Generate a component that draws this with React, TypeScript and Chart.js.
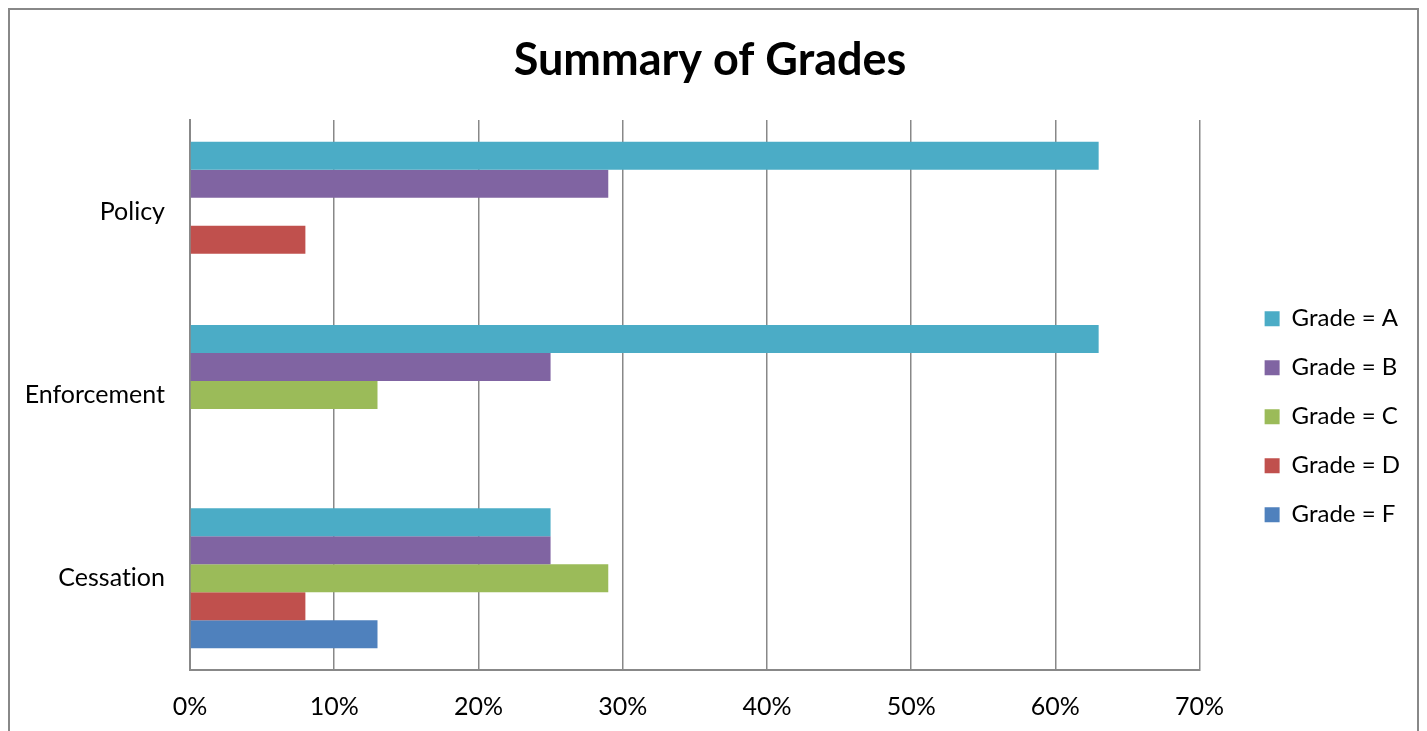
import React, { useEffect, useRef } from "react";
import { Chart, registerables } from "chart.js";

Chart.register(...registerables);

const categories = ["Policy", "Enforcement", "Cessation"];
const seriesLabels = ["Grade = A", "Grade = B", "Grade = C", "Grade = D", "Grade = F"];
const gradeA = [63, 63, 25];
const gradeB = [29, 25, 25];
const gradeC = [null, 13, 29];
const gradeD = [8, null, 8];
const gradeF = [null, null, 13];
const seriesColors = ["#4BACC6", "#8064A2", "#9BBB59", "#C0504D", "#4F81BD"];
const xMax = 70;
const xStep = 10;

const FONT = "Lato, 'Open Sans', sans-serif";

const noLigatures = {
  id: "noLigatures",
  beforeDraw(chart: any) {
    try {
      chart.ctx.textRendering = "optimizeSpeed";
    } catch (e) {}
  },
};

export default function App() {
  const ref = useRef<HTMLCanvasElement | null>(null);

  useEffect(() => {
    if (!ref.current) return;
    const series = [gradeA, gradeB, gradeC, gradeD, gradeF];
    const chart = new Chart(ref.current, {
      type: "bar",
      data: {
        labels: categories,
        datasets: series.map((d, i) => ({
          label: seriesLabels[i],
          data: d,
          backgroundColor: seriesColors[i],
          borderWidth: 0,
          categoryPercentage: 0.7636,
          barPercentage: 1,
          yAxisID: "y",
        })),
      },
      plugins: [noLigatures],
      options: {
        indexAxis: "y",
        animation: false,
        responsive: false,
        devicePixelRatio: 1,
        layout: { padding: { left: 0, right: 7, top: 0, bottom: 0 } },
        plugins: {
          title: {
            display: true,
            text: "Summary of Grades",
            color: "#000",
            font: { family: FONT, size: 45, weight: "bold" },
            padding: { top: 23, bottom: 33 },
          },
          legend: {
            display: true,
            position: "right",
            align: "center",
            title: { display: true, text: "", padding: 39, font: { size: 12 } },
            labels: {
              boxWidth: 15,
              boxHeight: 15,
              padding: 25,
              color: "#000",
              font: { family: FONT, size: 24 },
            },
          },
          tooltip: { enabled: false },
        },
        scales: {
          x: {
            type: "linear",
            min: 0,
            max: xMax,
            position: "bottom",
            ticks: {
              stepSize: xStep,
              color: "#000",
              padding: 22,
              font: { family: FONT, size: 25 },
              callback: (v: any) => `${v}%`,
            },
            grid: { display: true, color: "#888888", lineWidth: 1.5, drawTicks: false },
            border: { display: true, color: "#888888", width: 2 },
            afterFit: (s: any) => {
              s.height = 61;
            },
          },
          y: {
            type: "category",
            position: "left",
            ticks: {
              color: "#000",
              padding: 25,
              font: { family: FONT, size: 25 },
            },
            grid: { display: false, drawTicks: false },
            border: { display: true, color: "#888888", width: 2 },
            afterFit: (s: any) => {
              s.width = 180;
            },
          },
          yGap: {
            type: "category",
            labels: categories,
            position: "right",
            display: true,
            ticks: { display: false },
            grid: { display: false, drawTicks: false },
            border: { display: false },
            afterFit: (s: any) => {
              s.width = 40;
            },
          },
        },
      } as any,
    });
    return () => chart.destroy();
  }, []);

  return (
    <div
      style={{
        position: "relative",
        width: 1411,
        height: 740,
        border: "2px solid #888888",
        boxSizing: "border-box",
        background: "#fff",
      }}
    >
      <canvas ref={ref} width={1407} height={721} style={{ display: "block", width: 1407, height: 721 }} />
    </div>
  );
}
